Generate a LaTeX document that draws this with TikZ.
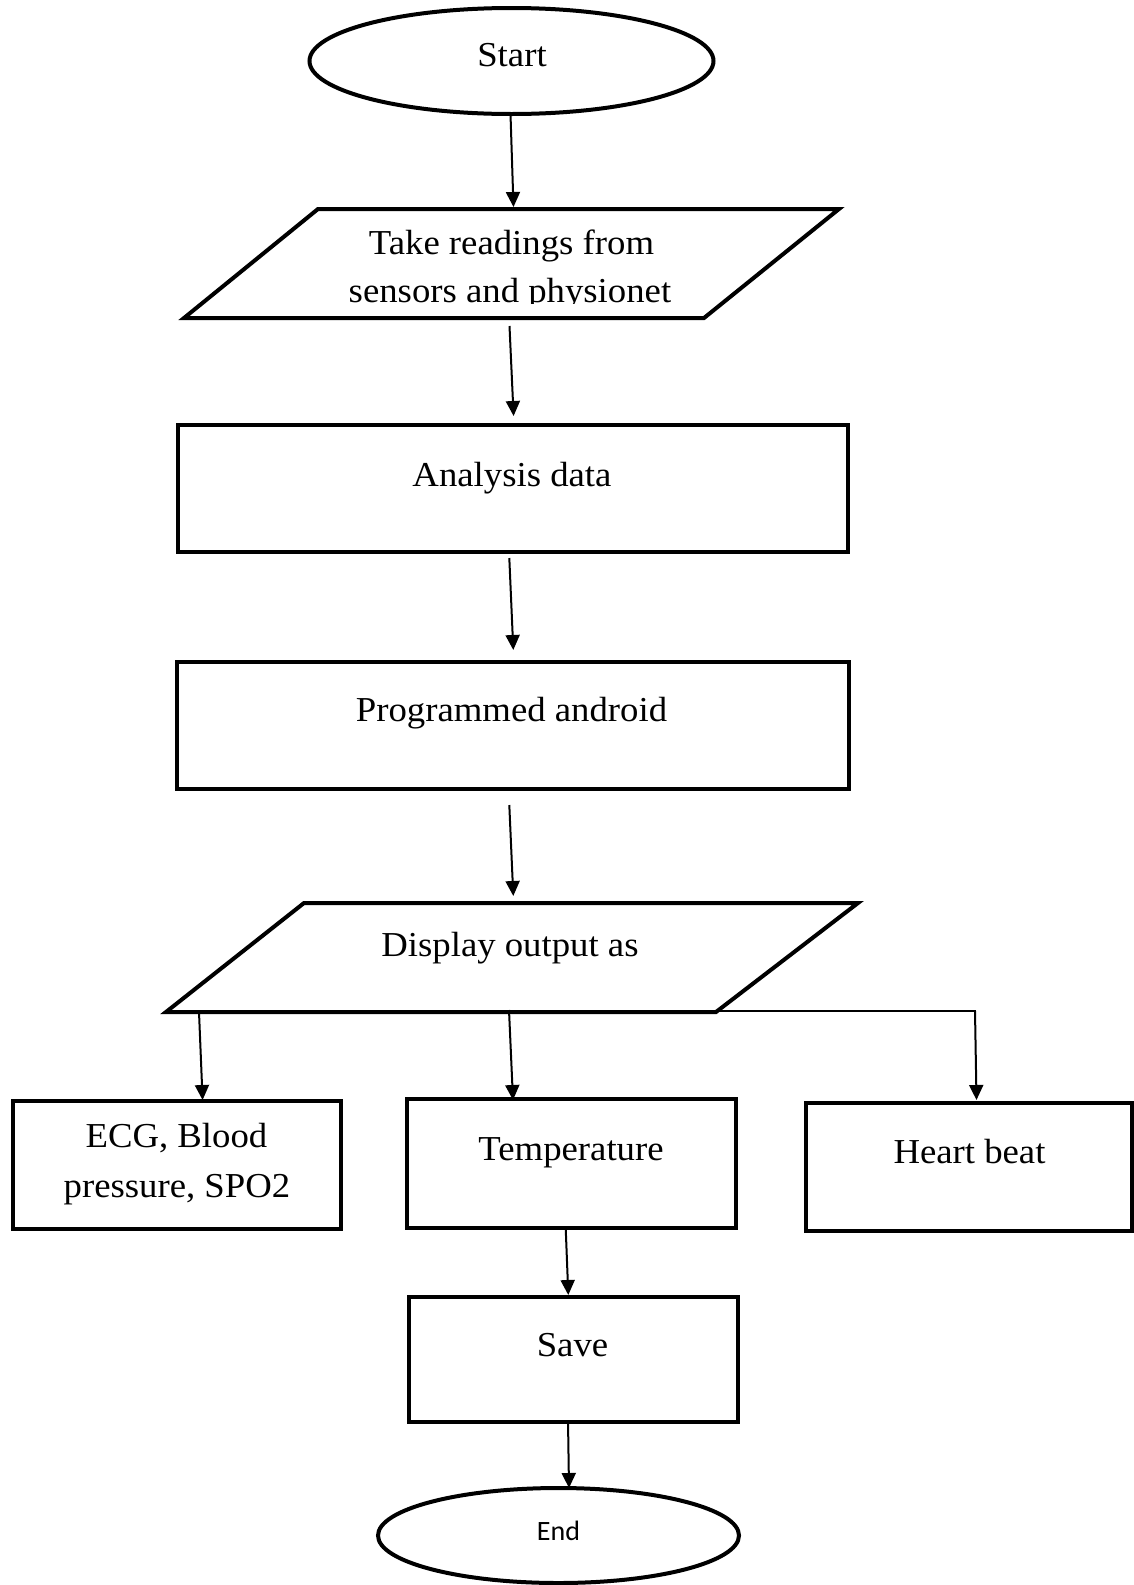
\documentclass[tikz,border=0pt]{standalone}
\usepackage{fontspec}
\setmainfont{Liberation Serif}[FakeStretch=1.05]
\newfontfamily\endfont{Carlito}
\usetikzlibrary{shapes.geometric,arrows.meta,calc}
\begin{document}
\begin{tikzpicture}[x=1pt,y=-1pt,
  shapeline/.style={draw=black,line width=4pt},
  rectbox/.style={shapeline,rectangle,inner sep=0pt,outer sep=0pt},
  ovalbox/.style={shapeline,ellipse,inner sep=0pt,outer sep=0pt},
  anchorbox/.style={rectangle,inner sep=0pt,outer sep=0pt},
  txt/.style={anchor=base,inner sep=0pt,font=\fontsize{35}{42}\selectfont},
  arr/.style={line width=2pt,-{Triangle[length=15pt,width=14pt]}},
  link/.style={line width=1.6pt}]
\fill[white] (0,0) rectangle (1134,1585);
\useasboundingbox (0,0) rectangle (1134,1585);

% Start
\node[ovalbox,minimum width=404pt,minimum height=106pt] (start) at (511.5,61) {};
\node[txt] (starttext) at (512,66) {Start};

% Take readings (parallelogram)
\draw[shapeline] (318,209) -- (839,209) -- (704,318) -- (184,318) -- cycle;
\node[anchorbox,minimum width=386pt,minimum height=109pt] (p1) at (511.25,263.5) {};
\begin{scope}
  \clip (150,200) rectangle (870,303.5);
  \node[txt] (p1a) at (511.5,254) {Take readings from};
  \node[txt] (p1b) at (510,302) {sensors and physionet};
\end{scope}

% Analysis data
\node[rectbox,minimum width=669.5pt,minimum height=127pt] (analysis) at (512.75,488.5) {};
\node[txt] (analysistext) at (512,486) {Analysis data};

% Programmed android
\node[rectbox,minimum width=672pt,minimum height=127pt] (prog) at (513,725.5) {};
\node[txt] (progtext) at (511.5,721) {Programmed android};

% Display output as (parallelogram)
\draw[shapeline] (304,903) -- (858,903) -- (716,1012) -- (166,1012) -- cycle;
\node[anchorbox,minimum width=412pt,minimum height=109pt] (p2) at (511,957.5) {};
\node[txt] (p2text) at (510,956) {Display output as};

% Output boxes
\node[rectbox,minimum width=328pt,minimum height=128pt] (ecg) at (177,1165) {};
\node[txt] (ecga) at (176.5,1147) {ECG, Blood};
\node[txt] (ecgb) at (177,1197) {pressure, SPO2};
\node[rectbox,minimum width=329pt,minimum height=129pt] (temp) at (571.5,1163.5) {};
\node[txt] (temptext) at (571,1160) {Temperature};
\node[rectbox,minimum width=326pt,minimum height=128pt] (heart) at (969,1167) {};
\node[txt] (hearttext) at (969.5,1163) {Heart beat};

% Save
\node[rectbox,minimum width=329pt,minimum height=125pt] (save) at (573.5,1359.5) {};
\node[txt] (savetext) at (572.5,1356.5) {Save};

% End
\node[ovalbox,minimum width=361pt,minimum height=95pt] (end) at (558.5,1535.5) {};
\node[anchor=base,inner sep=0pt,font=\endfont\fontsize{28}{34}\selectfont] (endtext) at (558.5,1540) {End};

% Connectors
\draw[arr] ($(start.south)+(-1,0)$) -- ($(p1.north)+(2.25,-2)$);
\draw[arr] ($(p1.south)+(-1.75,8)$) -- ($(analysis.north)+(0.85,-9)$);
\draw[arr] ($(analysis.south)+(-3.45,6)$) -- ($(prog.north)+(0.3,-12)$);
\draw[arr] ($(prog.south)+(-3.7,16)$) -- ($(p2.north)+(2.3,-7)$);

\draw[arr] ($(p2.south)+(-312,0)$) -- ($(ecg.north)+(25.6,-1)$);
\draw[arr] ($(p2.south)+(-2,-2)$) -- ($(temp.north)+(-58.5,1)$);
\coordinate (p2br) at (716,1011);
\coordinate (hb) at (976,1011);
\draw[link] (p2br) -- (hb);
\draw[arr] ($(hb)+(-1,0)$) -- ($(heart.north)+(7.5,-3)$);

\draw[arr] ($(temp.south)+(-5.8,0)$) -- ($(save.north)+(-5.2,-2)$);
\draw[arr] ($(save.south)+(-5.5,-2)$) -- ($(end.north)+(10.5,0)$);
\end{tikzpicture}
\end{document}
